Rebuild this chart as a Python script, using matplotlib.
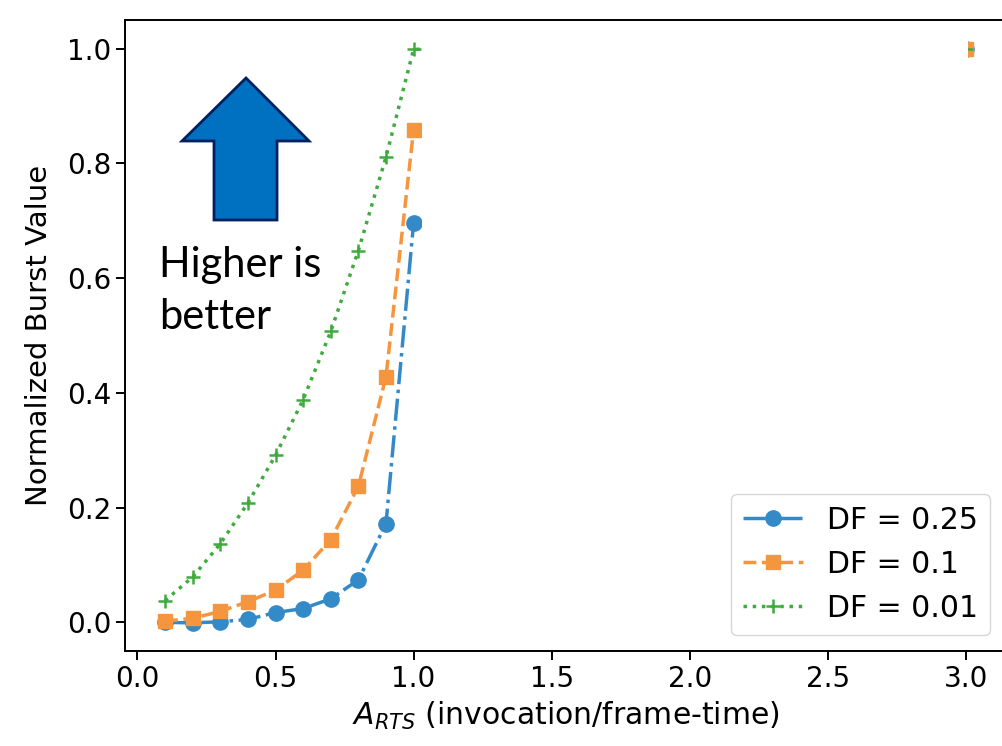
import matplotlib
matplotlib.use('Agg')
import matplotlib.pyplot as plt
from matplotlib.patches import Polygon, Rectangle

# data
a_rts = [0.1, 0.2, 0.3, 0.4, 0.5, 0.6, 0.7, 0.8, 0.9, 1.0, 3.0]
df_025 = [0.0, -0.001, 0.001, 0.005, 0.017, 0.024, 0.041, 0.074, 0.172, 0.696, 1.0]
df_01 = [0.002, 0.007, 0.019, 0.036, 0.056, 0.091, 0.144, 0.237, 0.428, 0.859, 1.0]
df_001 = [0.038, 0.079, 0.137, 0.208, 0.291, 0.388, 0.507, 0.648, 0.811, 0.999, 1.0]
labels = ['DF = 0.25', 'DF = 0.1', 'DF = 0.01']

W, H = 1003, 746
fig = plt.figure(figsize=(W / 100, H / 100), dpi=100)
ax = fig.add_axes([125 / W, 1 - 651 / H, (1006 - 125) / W, (651 - 20) / H])

ax.plot(a_rts, df_025, '-.', marker='o', color='#348ac7', lw=2.5, ms=11, label=labels[0])
ax.plot(a_rts, df_01, '--', marker='s', color='#f5963f', lw=2.5, ms=10.5, label=labels[1])
ax.plot(a_rts, df_001, ':', marker='+', color='#3fab3f', lw=2.5, ms=10.5, mew=1.8, label=labels[2])

# white box pasted over the part between 1.0 and 3.0
ax.add_patch(Rectangle((1.029, 0.6), 3.007 - 1.029, 0.445, facecolor='white',
                       edgecolor='none', zorder=2.5))

ax.set_xlim(-0.045, 3.145)
ax.set_ylim(-0.05, 1.05)
ax.set_xticks([0.0, 0.5, 1.0, 1.5, 2.0, 2.5, 3.0])
ax.set_yticks([0.0, 0.2, 0.4, 0.6, 0.8, 1.0])
ax.tick_params(labelsize=20, length=6.3, width=1.4)
for sp in ax.spines.values():
    sp.set_linewidth(1.4)
ax.set_xlabel('$A_{RTS}$ (invocation/frame-time)', fontsize=21.5, labelpad=5)
ax.set_ylabel('Normalized Burst Value', fontsize=21, labelpad=10)
ax.legend(loc='lower right', fontsize=21.5, borderaxespad=0.55)

# the "higher is better" arrow
pts = [(246, 78), (309, 141), (277, 141), (277, 220), (214, 220), (214, 141), (182, 141)]
pts = [(x / W, 1 - y / H) for x, y in pts]
fig.patches.append(Polygon(pts, closed=True, facecolor='#0070C0', edgecolor='#002060',
                           lw=2, transform=fig.transFigure, figure=fig))
fig.text(159 / W, 1 - 246 / H, 'Higher is\nbetter', fontsize=30, family='Lato',
         va='top', ha='left', linespacing=1.45)

fig.savefig('out.png', dpi=100)
